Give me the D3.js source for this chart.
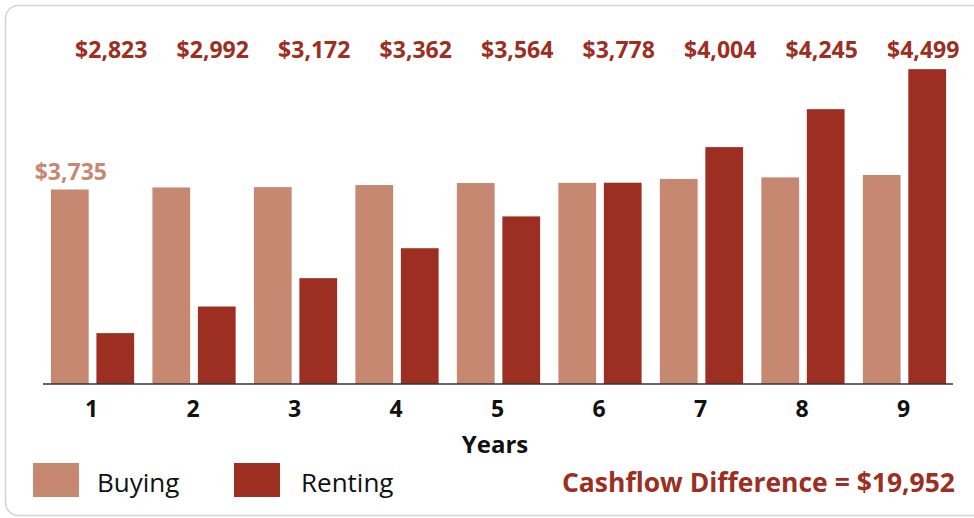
<!DOCTYPE html>
<html>
  <head>
    <meta charset="utf-8">
    <title>Buying vs Renting Cashflow</title>
    <script src="https://d3js.org/d3.v7.min.js"></script>
    <style>
      body { margin: 0; background: #fff; }
      text { font-family: "Open Sans", "Noto Sans", sans-serif; }
    </style>
  </head>
  <body>
    <div id="chart"></div>
    <script>
      // data
      var years = ["1", "2", "3", "4", "5", "6", "7", "8", "9"];
      var series = ["Buying", "Renting"];
      var buying = [3735, 3748, 3750, 3763, 3776, 3777, 3802, 3812, 3827];
      var renting = [2823, 2992, 3172, 3362, 3564, 3778, 4004, 4245, 4499];
      var cashflowNote = "Cashflow Difference = $19,952";

      var W = 974, H = 518;
      var color = d3.scaleOrdinal().domain(series).range(["#c78871", "#9c2e22"]);

      var rows = years.map((y, i) => ({ year: y, Buying: buying[i], Renting: renting[i] }));

      var svg = d3.select("#chart").append("svg")
        .attr("width", W)
        .attr("height", H);

      // card outline
      svg.append("rect")
        .attr("x", 5.5).attr("y", 5.5)
        .attr("width", 1000).attr("height", 510)
        .attr("rx", 13)
        .attr("fill", "#fff")
        .attr("stroke", "#d4d4d4")
        .attr("stroke-width", 1.5);

      var x0 = d3.scaleBand().domain(years).range([41.8, 955.2]).paddingInner(0.18).paddingOuter(0.09);
      var x1 = d3.scaleBand().domain(series).range([0, x0.bandwidth()]).paddingInner(0.17);
      var y = d3.scaleLinear().domain([2500, 4500]).range([384, 69]);

      var groups = svg.append("g").selectAll("g")
        .data(rows)
        .enter().append("g")
        .attr("transform", (d) => "translate(" + x0(d.year) + ",0)");

      groups.selectAll("rect")
        .data((d) => series.map((k) => ({ key: k, value: d[k] })))
        .enter().append("rect")
        .attr("x", (d) => x1(d.key))
        .attr("y", (d) => y(d.value))
        .attr("width", x1.bandwidth())
        .attr("height", (d) => y.range()[0] - y(d.value))
        .attr("fill", (d) => color(d.key));

      // renting labels along the top
      svg.append("g").selectAll("text")
        .data(rows)
        .enter().append("text")
        .attr("x", (d) => x0(d.year) + x1("Renting") + x1.bandwidth() / 2 - 4)
        .attr("y", 58)
        .attr("text-anchor", "middle")
        .attr("font-size", "23px")
        .attr("font-weight", "bold")
        .attr("fill", color("Renting"))
        .text((d) => d3.format("$,")(d.Renting));

      // first buying label
      svg.append("text")
        .attr("x", x0(years[0]) + x1("Buying") + x1.bandwidth() / 2 + 1)
        .attr("y", 180)
        .attr("text-anchor", "middle")
        .attr("font-size", "23px")
        .attr("font-weight", "bold")
        .attr("fill", color("Buying"))
        .text(d3.format("$,")(buying[0]));

      // x axis
      var xAxis = svg.append("g")
        .attr("transform", "translate(0,384)")
        .call(d3.axisBottom(x0).tickSize(0).tickPadding(17).tickSizeOuter(0));
      xAxis.select(".domain").attr("stroke", "#333").attr("stroke-width", 1.5)
        .attr("d", "M43,0H953");
      xAxis.selectAll("text")
        .attr("font-size", "23px")
        .attr("font-weight", "bold")
        .attr("fill", "#111")
        .attr("dx", "-1")
        .style("font-family", "'Open Sans', sans-serif");

      svg.append("text")
        .attr("x", 495)
        .attr("y", 453)
        .attr("text-anchor", "middle")
        .attr("font-size", "24px")
        .attr("font-weight", "bold")
        .attr("fill", "#111")
        .text("Years");

      // legend
      var legend = svg.append("g").selectAll("g")
        .data(series)
        .enter().append("g")
        .attr("transform", (d, i) => "translate(" + (33 + i * 201) + ",463)");
      legend.append("rect")
        .attr("width", 46)
        .attr("height", 34)
        .attr("fill", (d) => color(d));
      legend.append("text")
        .attr("x", (d, i) => 64 + i * 3)
        .attr("y", 29)
        .attr("font-size", "26px")
        .attr("fill", "#111")
        .text((d) => d);

      svg.append("text")
        .attr("x", 955)
        .attr("y", 492)
        .attr("text-anchor", "end")
        .attr("font-size", "26px")
        .attr("font-weight", "bold")
        .attr("fill", color("Renting"))
        .attr("textLength", 393)
        .attr("lengthAdjust", "spacingAndGlyphs")
        .text(cashflowNote);
    </script>
  </body>
</html>
